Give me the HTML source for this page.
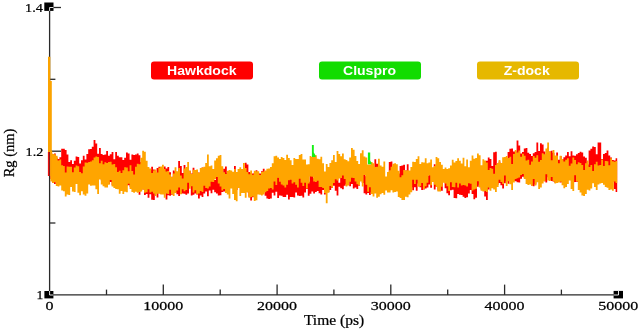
<!DOCTYPE html><html><head><meta charset="utf-8"><title>Rg plot</title><style>html,body{margin:0;padding:0;background:#fff}svg{display:block}text{font-family:"Liberation Serif",serif;fill:#000;stroke:#000;stroke-width:0.25px}.lg{font-family:"Liberation Sans",sans-serif;font-weight:bold;fill:#fff;stroke:none}</style></head><body>
<svg width="641" height="331" viewBox="0 0 641 331">
<rect width="641" height="331" fill="#fff"/>
<g stroke="#2a2a2a" stroke-width="1.3" fill="none">
<line x1="49.6" y1="7" x2="49.6" y2="294.9"/>
<line x1="49.6" y1="294.9" x2="618.3" y2="294.9"/>
<line x1="49.6" y1="7.5" x2="61" y2="7.5"/>
<line x1="49.6" y1="151.2" x2="61" y2="151.2"/>
<line x1="49.6" y1="79.3" x2="55.4" y2="79.3"/>
<line x1="49.6" y1="223" x2="55.4" y2="223"/>
<line x1="163.3" y1="284.6" x2="163.3" y2="294.9"/>
<line x1="277.1" y1="284.6" x2="277.1" y2="294.9"/>
<line x1="390.8" y1="284.6" x2="390.8" y2="294.9"/>
<line x1="504.6" y1="284.6" x2="504.6" y2="294.9"/>
<line x1="106.5" y1="289.6" x2="106.5" y2="294.9"/>
<line x1="220.2" y1="289.6" x2="220.2" y2="294.9"/>
<line x1="333.9" y1="289.6" x2="333.9" y2="294.9"/>
<line x1="447.7" y1="289.6" x2="447.7" y2="294.9"/>
<line x1="561.4" y1="289.6" x2="561.4" y2="294.9"/>
</g>
<g>
<polygon points="50.4,153.0 52.2,153.0 52.2,153.9 54.0,153.9 54.0,153.6 55.8,153.6 55.8,157.5 57.6,157.5 57.6,159.0 59.4,159.0 59.4,157.2 61.2,157.2 61.2,148.7 63.0,148.7 63.0,148.8 64.8,148.8 64.8,150.1 66.6,150.1 66.6,154.5 68.4,154.5 68.4,162.0 70.2,162.0 70.2,160.2 72.0,160.2 72.0,163.9 73.8,163.9 73.8,160.7 75.6,160.7 75.6,156.6 77.4,156.6 77.4,156.9 79.2,156.9 79.2,163.5 81.0,163.5 81.0,160.2 82.8,160.2 82.8,155.8 84.6,155.8 84.6,159.6 86.4,159.6 86.4,153.9 88.2,153.9 88.2,149.2 90.0,149.2 90.0,149.1 91.8,149.1 91.8,146.7 93.6,146.7 93.6,140.1 95.4,140.1 95.4,143.4 97.2,143.4 97.2,153.7 99.0,153.7 99.0,148.0 100.8,148.0 100.8,154.1 102.6,154.1 102.6,154.9 104.4,154.9 104.4,154.6 106.2,154.6 106.2,150.9 108.0,150.9 108.0,155.8 109.8,155.8 109.8,154.3 111.6,154.3 111.6,152.0 113.4,152.0 113.4,159.3 115.2,159.3 115.2,151.9 117.0,151.9 117.0,155.7 118.8,155.7 118.8,157.3 120.6,157.3 120.6,157.3 122.4,157.3 122.4,159.9 124.2,159.9 124.2,157.8 126.0,157.8 126.0,152.4 127.8,152.4 127.8,153.5 129.6,153.5 129.6,159.8 131.4,159.8 131.4,154.4 133.2,154.4 133.2,155.1 135.0,155.1 135.0,154.4 136.8,154.4 136.8,153.4 138.6,153.4 138.6,155.3 140.4,155.3 140.4,161.9 142.2,161.9 142.2,165.4 144.0,165.4 144.0,170.7 145.8,170.7 145.8,168.0 147.6,168.0 147.6,170.0 149.4,170.0 149.4,169.7 151.2,169.7 151.2,166.8 153.0,166.8 153.0,169.6 154.8,169.6 154.8,172.8 156.6,172.8 156.6,168.1 158.4,168.1 158.4,166.8 160.2,166.8 160.2,167.3 162.0,167.3 162.0,172.8 163.8,172.8 163.8,166.5 165.6,166.5 165.6,168.4 167.4,168.4 167.4,167.0 169.2,167.0 169.2,172.3 171.0,172.3 171.0,176.8 172.8,176.8 172.8,170.5 174.6,170.5 174.6,171.5 176.4,171.5 176.4,172.7 178.2,172.7 178.2,161.0 180.0,161.0 180.0,166.1 181.8,166.1 181.8,172.9 183.6,172.9 183.6,164.9 185.4,164.9 185.4,171.4 187.2,171.4 187.2,173.3 189.0,173.3 189.0,170.8 190.8,170.8 190.8,173.6 192.6,173.6 192.6,167.7 194.4,167.7 194.4,172.3 196.2,172.3 196.2,173.9 198.0,173.9 198.0,172.4 199.8,172.4 199.8,177.6 201.6,177.6 201.6,167.6 203.4,167.6 203.4,178.7 205.2,178.7 205.2,173.9 207.0,173.9 207.0,171.2 208.8,171.2 208.8,171.9 210.6,171.9 210.6,175.5 212.4,175.5 212.4,176.4 214.2,176.4 214.2,180.0 216.0,180.0 216.0,173.7 217.8,173.7 217.8,174.5 219.6,174.5 219.6,173.8 221.4,173.8 221.4,182.2 223.2,182.2 223.2,168.7 225.0,168.7 225.0,166.4 226.8,166.4 226.8,173.2 228.6,173.2 228.6,173.5 230.4,173.5 230.4,179.7 232.2,179.7 232.2,173.2 234.0,173.2 234.0,166.0 235.8,166.0 235.8,179.3 237.6,179.3 237.6,172.5 239.4,172.5 239.4,174.3 241.2,174.3 241.2,176.6 243.0,176.6 243.0,181.8 244.8,181.8 244.8,162.8 246.6,162.8 246.6,164.5 248.4,164.5 248.4,172.1 250.2,172.1 250.2,172.7 252.0,172.7 252.0,173.4 253.8,173.4 253.8,172.8 255.6,172.8 255.6,170.3 257.4,170.3 257.4,172.9 259.2,172.9 259.2,173.4 261.0,173.4 261.0,171.2 262.8,171.2 262.8,168.7 264.6,168.7 264.6,173.3 266.4,173.3 266.4,173.5 268.2,173.5 268.2,170.5 270.0,170.5 270.0,177.6 271.8,177.6 271.8,178.8 273.6,178.8 273.6,174.7 275.4,174.7 275.4,176.7 277.2,176.7 277.2,177.3 279.0,177.3 279.0,174.2 280.8,174.2 280.8,179.3 282.6,179.3 282.6,179.5 284.4,179.5 284.4,174.1 286.2,174.1 286.2,176.5 288.0,176.5 288.0,173.6 289.8,173.6 289.8,173.3 291.6,173.3 291.6,179.2 293.4,179.2 293.4,176.8 295.2,176.8 295.2,172.8 297.0,172.8 297.0,173.9 298.8,173.9 298.8,174.2 300.6,174.2 300.6,173.0 302.4,173.0 302.4,175.6 304.2,175.6 304.2,174.3 306.0,174.3 306.0,172.9 307.8,172.9 307.8,181.7 309.6,181.7 309.6,174.5 311.4,174.5 311.4,175.6 313.2,175.6 313.2,178.3 315.0,178.3 315.0,174.3 316.8,174.3 316.8,173.2 318.6,173.2 318.6,179.4 320.4,179.4 320.4,174.1 322.2,174.1 322.2,175.8 324.0,175.8 324.0,179.8 325.8,179.8 325.8,172.9 327.6,172.9 327.6,170.6 329.4,170.6 329.4,169.2 331.2,169.2 331.2,173.6 333.0,173.6 333.0,173.0 334.8,173.0 334.8,173.2 336.6,173.2 336.6,177.5 338.4,177.5 338.4,182.8 340.2,182.8 340.2,175.5 342.0,175.5 342.0,175.1 343.8,175.1 343.8,174.8 345.6,174.8 345.6,177.2 347.4,177.2 347.4,174.8 349.2,174.8 349.2,175.1 351.0,175.1 351.0,173.9 352.8,173.9 352.8,175.0 354.6,175.0 354.6,171.3 356.4,171.3 356.4,164.5 358.2,164.5 358.2,179.2 360.0,179.2 360.0,175.6 361.8,175.6 361.8,175.1 363.6,175.1 363.6,174.4 365.4,174.4 365.4,176.3 367.2,176.3 367.2,173.1 369.0,173.1 369.0,174.4 370.8,174.4 370.8,173.3 372.6,173.3 372.6,167.8 374.4,167.8 374.4,159.2 376.2,159.2 376.2,163.8 378.0,163.8 378.0,177.9 379.8,177.9 379.8,172.1 381.6,172.1 381.6,169.0 383.4,169.0 383.4,182.3 385.2,182.3 385.2,182.0 387.0,182.0 387.0,178.0 388.8,178.0 388.8,161.9 390.6,161.9 390.6,161.5 392.4,161.5 392.4,171.8 394.2,171.8 394.2,175.5 396.0,175.5 396.0,173.9 397.8,173.9 397.8,173.5 399.6,173.5 399.6,166.0 401.4,166.0 401.4,165.5 403.2,165.5 403.2,164.8 405.0,164.8 405.0,170.6 406.8,170.6 406.8,164.3 408.6,164.3 408.6,176.9 410.4,176.9 410.4,173.8 412.2,173.8 412.2,174.6 414.0,174.6 414.0,174.6 415.8,174.6 415.8,175.7 417.6,175.7 417.6,176.4 419.4,176.4 419.4,164.4 421.2,164.4 421.2,168.4 423.0,168.4 423.0,175.5 424.8,175.5 424.8,172.8 426.6,172.8 426.6,175.9 428.4,175.9 428.4,165.1 430.2,165.1 430.2,169.6 432.0,169.6 432.0,174.6 433.8,174.6 433.8,164.3 435.6,164.3 435.6,181.7 437.4,181.7 437.4,180.0 439.2,180.0 439.2,168.5 441.0,168.5 441.0,171.4 442.8,171.4 442.8,174.9 444.6,174.9 444.6,178.4 446.4,178.4 446.4,174.7 448.2,174.7 448.2,172.8 450.0,172.8 450.0,180.4 451.8,180.4 451.8,173.9 453.6,173.9 453.6,177.7 455.4,177.7 455.4,180.6 457.2,180.6 457.2,176.1 459.0,176.1 459.0,173.6 460.8,173.6 460.8,174.7 462.6,174.7 462.6,174.6 464.4,174.6 464.4,178.2 466.2,178.2 466.2,173.7 468.0,173.7 468.0,176.4 469.8,176.4 469.8,174.4 471.6,174.4 471.6,175.8 473.4,175.8 473.4,176.1 475.2,176.1 475.2,173.2 477.0,173.2 477.0,180.0 478.8,180.0 478.8,174.6 480.6,174.6 480.6,173.4 482.4,173.4 482.4,177.5 484.2,177.5 484.2,176.0 486.0,176.0 486.0,160.8 487.8,160.8 487.8,157.5 489.6,157.5 489.6,159.1 491.4,159.1 491.4,165.9 493.2,165.9 493.2,152.3 495.0,152.3 495.0,151.8 496.8,151.8 496.8,166.8 498.6,166.8 498.6,161.5 500.4,161.5 500.4,162.9 502.2,162.9 502.2,166.7 504.0,166.7 504.0,165.8 505.8,165.8 505.8,158.2 507.6,158.2 507.6,152.1 509.4,152.1 509.4,148.7 511.2,148.7 511.2,148.6 513.0,148.6 513.0,151.4 514.8,151.4 514.8,151.5 516.6,151.5 516.6,140.6 518.4,140.6 518.4,145.4 520.2,145.4 520.2,153.4 522.0,153.4 522.0,152.1 523.8,152.1 523.8,148.6 525.6,148.6 525.6,148.0 527.4,148.0 527.4,152.7 529.2,152.7 529.2,153.9 531.0,153.9 531.0,156.1 532.8,156.1 532.8,153.2 534.6,153.2 534.6,151.9 536.4,151.9 536.4,142.5 538.2,142.5 538.2,150.9 540.0,150.9 540.0,143.3 541.8,143.3 541.8,144.6 543.6,144.6 543.6,151.5 545.4,151.5 545.4,155.6 547.2,155.6 547.2,147.5 549.0,147.5 549.0,151.5 550.8,151.5 550.8,150.8 552.6,150.8 552.6,152.8 554.4,152.8 554.4,159.0 556.2,159.0 556.2,152.5 558.0,152.5 558.0,159.8 559.8,159.8 559.8,156.0 561.6,156.0 561.6,159.1 563.4,159.1 563.4,157.2 565.2,157.2 565.2,155.6 567.0,155.6 567.0,152.1 568.8,152.1 568.8,156.2 570.6,156.2 570.6,151.3 572.4,151.3 572.4,155.5 574.2,155.5 574.2,155.8 576.0,155.8 576.0,154.3 577.8,154.3 577.8,153.1 579.6,153.1 579.6,151.7 581.4,151.7 581.4,152.6 583.2,152.6 583.2,156.5 585.0,156.5 585.0,157.7 586.8,157.7 586.8,164.6 588.6,164.6 588.6,150.5 590.4,150.5 590.4,148.7 592.2,148.7 592.2,146.5 594.0,146.5 594.0,146.9 595.8,146.9 595.8,154.3 597.6,154.3 597.6,142.4 599.4,142.4 599.4,142.5 601.2,142.5 601.2,159.0 603.0,159.0 603.0,154.1 604.8,154.1 604.8,153.1 606.6,153.1 606.6,150.6 608.4,150.6 608.4,155.6 610.2,155.6 610.2,157.4 612.0,157.4 612.0,159.9 613.8,159.9 613.8,160.5 615.6,160.5 615.6,158.3 617.2,158.3 617.2,192.0 615.6,192.0 615.6,189.0 613.8,189.0 613.8,181.6 612.0,181.6 612.0,181.6 610.2,181.6 610.2,180.3 608.4,180.3 608.4,182.5 606.6,182.5 606.6,173.1 604.8,173.1 604.8,182.5 603.0,182.5 603.0,176.6 601.2,176.6 601.2,178.6 599.4,178.6 599.4,178.6 597.6,178.6 597.6,181.2 595.8,181.2 595.8,182.7 594.0,182.7 594.0,175.6 592.2,175.6 592.2,183.0 590.4,183.0 590.4,178.2 588.6,178.2 588.6,171.6 586.8,171.6 586.8,182.2 585.0,182.2 585.0,183.1 583.2,183.1 583.2,180.3 581.4,180.3 581.4,180.8 579.6,180.8 579.6,182.0 577.8,182.0 577.8,181.7 576.0,181.7 576.0,181.9 574.2,181.9 574.2,182.4 572.4,182.4 572.4,180.3 570.6,180.3 570.6,177.7 568.8,177.7 568.8,179.4 567.0,179.4 567.0,180.3 565.2,180.3 565.2,176.5 563.4,176.5 563.4,182.3 561.6,182.3 561.6,182.6 559.8,182.6 559.8,179.5 558.0,179.5 558.0,179.7 556.2,179.7 556.2,182.7 554.4,182.7 554.4,181.5 552.6,181.5 552.6,181.1 550.8,181.1 550.8,179.9 549.0,179.9 549.0,177.3 547.2,177.3 547.2,182.4 545.4,182.4 545.4,181.2 543.6,181.2 543.6,178.7 541.8,178.7 541.8,178.3 540.0,178.3 540.0,180.7 538.2,180.7 538.2,180.1 536.4,180.1 536.4,184.5 534.6,184.5 534.6,186.2 532.8,186.2 532.8,185.6 531.0,185.6 531.0,181.0 529.2,181.0 529.2,180.8 527.4,180.8 527.4,177.3 525.6,177.3 525.6,177.9 523.8,177.9 523.8,176.8 522.0,176.8 522.0,178.7 520.2,178.7 520.2,182.4 518.4,182.4 518.4,182.3 516.6,182.3 516.6,181.3 514.8,181.3 514.8,180.9 513.0,180.9 513.0,177.9 511.2,177.9 511.2,175.8 509.4,175.8 509.4,183.7 507.6,183.7 507.6,181.3 505.8,181.3 505.8,183.3 504.0,183.3 504.0,188.5 502.2,188.5 502.2,185.3 500.4,185.3 500.4,182.9 498.6,182.9 498.6,184.7 496.8,184.7 496.8,182.3 495.0,182.3 495.0,181.5 493.2,181.5 493.2,186.2 491.4,186.2 491.4,183.4 489.6,183.4 489.6,189.6 487.8,189.6 487.8,200.0 486.0,200.0 486.0,196.6 484.2,196.6 484.2,189.3 482.4,189.3 482.4,189.6 480.6,189.6 480.6,184.7 478.8,184.7 478.8,186.8 477.0,186.8 477.0,197.7 475.2,197.7 475.2,199.3 473.4,199.3 473.4,193.9 471.6,193.9 471.6,190.1 469.8,190.1 469.8,193.6 468.0,193.6 468.0,197.2 466.2,197.2 466.2,198.0 464.4,198.0 464.4,196.7 462.6,196.7 462.6,194.9 460.8,194.9 460.8,194.7 459.0,194.7 459.0,193.9 457.2,193.9 457.2,198.3 455.4,198.3 455.4,197.9 453.6,197.9 453.6,189.7 451.8,189.7 451.8,190.2 450.0,190.2 450.0,195.2 448.2,195.2 448.2,193.3 446.4,193.3 446.4,188.3 444.6,188.3 444.6,180.3 442.8,180.3 442.8,190.8 441.0,190.8 441.0,191.0 439.2,191.0 439.2,190.4 437.4,190.4 437.4,186.7 435.6,186.7 435.6,189.6 433.8,189.6 433.8,179.0 432.0,179.0 432.0,187.8 430.2,187.8 430.2,184.5 428.4,184.5 428.4,187.4 426.6,187.4 426.6,188.4 424.8,188.4 424.8,189.4 423.0,189.4 423.0,190.1 421.2,190.1 421.2,187.2 419.4,187.2 419.4,183.4 417.6,183.4 417.6,190.7 415.8,190.7 415.8,187.3 414.0,187.3 414.0,190.2 412.2,190.2 412.2,187.3 410.4,187.3 410.4,182.2 408.6,182.2 408.6,183.5 406.8,183.5 406.8,186.1 405.0,186.1 405.0,179.5 403.2,179.5 403.2,184.6 401.4,184.6 401.4,181.6 399.6,181.6 399.6,184.3 397.8,184.3 397.8,186.9 396.0,186.9 396.0,188.2 394.2,188.2 394.2,186.6 392.4,186.6 392.4,188.5 390.6,188.5 390.6,184.4 388.8,184.4 388.8,189.0 387.0,189.0 387.0,184.8 385.2,184.8 385.2,189.6 383.4,189.6 383.4,189.6 381.6,189.6 381.6,182.1 379.8,182.1 379.8,183.9 378.0,183.9 378.0,189.3 376.2,189.3 376.2,188.5 374.4,188.5 374.4,185.3 372.6,185.3 372.6,192.3 370.8,192.3 370.8,194.9 369.0,194.9 369.0,192.9 367.2,192.9 367.2,194.4 365.4,194.4 365.4,193.3 363.6,193.3 363.6,183.1 361.8,183.1 361.8,179.1 360.0,179.1 360.0,185.8 358.2,185.8 358.2,188.9 356.4,188.9 356.4,187.5 354.6,187.5 354.6,188.5 352.8,188.5 352.8,184.0 351.0,184.0 351.0,186.3 349.2,186.3 349.2,180.7 347.4,180.7 347.4,184.3 345.6,184.3 345.6,185.7 343.8,185.7 343.8,189.2 342.0,189.2 342.0,188.2 340.2,188.2 340.2,186.8 338.4,186.8 338.4,195.6 336.6,195.6 336.6,190.8 334.8,190.8 334.8,185.7 333.0,185.7 333.0,188.0 331.2,188.0 331.2,190.1 329.4,190.1 329.4,192.0 327.6,192.0 327.6,190.3 325.8,190.3 325.8,194.6 324.0,194.6 324.0,190.0 322.2,190.0 322.2,194.4 320.4,194.4 320.4,193.3 318.6,193.3 318.6,190.9 316.8,190.9 316.8,191.9 315.0,191.9 315.0,193.6 313.2,193.6 313.2,191.6 311.4,191.6 311.4,193.7 309.6,193.7 309.6,195.7 307.8,195.7 307.8,188.9 306.0,188.9 306.0,192.4 304.2,192.4 304.2,197.4 302.4,197.4 302.4,195.8 300.6,195.8 300.6,196.0 298.8,196.0 298.8,195.5 297.0,195.5 297.0,192.5 295.2,192.5 295.2,197.4 293.4,197.4 293.4,197.1 291.6,197.1 291.6,197.0 289.8,197.0 289.8,199.4 288.0,199.4 288.0,194.7 286.2,194.7 286.2,197.0 284.4,197.0 284.4,197.1 282.6,197.1 282.6,195.7 280.8,195.7 280.8,195.6 279.0,195.6 279.0,198.1 277.2,198.1 277.2,191.7 275.4,191.7 275.4,195.4 273.6,195.4 273.6,192.8 271.8,192.8 271.8,198.6 270.0,198.6 270.0,198.9 268.2,198.9 268.2,198.5 266.4,198.5 266.4,195.8 264.6,195.8 264.6,191.1 262.8,191.1 262.8,186.4 261.0,186.4 261.0,183.4 259.2,183.4 259.2,186.1 257.4,186.1 257.4,192.1 255.6,192.1 255.6,194.9 253.8,194.9 253.8,197.2 252.0,197.2 252.0,200.4 250.2,200.4 250.2,196.8 248.4,196.8 248.4,192.3 246.6,192.3 246.6,186.7 244.8,186.7 244.8,186.4 243.0,186.4 243.0,190.6 241.2,190.6 241.2,185.4 239.4,185.4 239.4,187.8 237.6,187.8 237.6,189.9 235.8,189.9 235.8,187.9 234.0,187.9 234.0,188.0 232.2,188.0 232.2,182.8 230.4,182.8 230.4,181.1 228.6,181.1 228.6,189.9 226.8,189.9 226.8,187.9 225.0,187.9 225.0,191.5 223.2,191.5 223.2,192.1 221.4,192.1 221.4,195.3 219.6,195.3 219.6,195.6 217.8,195.6 217.8,193.5 216.0,193.5 216.0,192.2 214.2,192.2 214.2,189.7 212.4,189.7 212.4,193.3 210.6,193.3 210.6,190.5 208.8,190.5 208.8,196.2 207.0,196.2 207.0,191.4 205.2,191.4 205.2,193.4 203.4,193.4 203.4,196.9 201.6,196.9 201.6,195.4 199.8,195.4 199.8,198.4 198.0,198.4 198.0,194.6 196.2,194.6 196.2,193.4 194.4,193.4 194.4,194.8 192.6,194.8 192.6,195.5 190.8,195.5 190.8,186.2 189.0,186.2 189.0,193.5 187.2,193.5 187.2,194.7 185.4,194.7 185.4,193.8 183.6,193.8 183.6,193.5 181.8,193.5 181.8,193.9 180.0,193.9 180.0,196.1 178.2,196.1 178.2,194.3 176.4,194.3 176.4,192.4 174.6,192.4 174.6,187.2 172.8,187.2 172.8,194.8 171.0,194.8 171.0,195.7 169.2,195.7 169.2,195.3 167.4,195.3 167.4,199.5 165.6,199.5 165.6,190.1 163.8,190.1 163.8,187.2 162.0,187.2 162.0,193.9 160.2,193.9 160.2,191.6 158.4,191.6 158.4,197.6 156.6,197.6 156.6,189.8 154.8,189.8 154.8,200.0 153.0,200.0 153.0,199.7 151.2,199.7 151.2,194.2 149.4,194.2 149.4,197.8 147.6,197.8 147.6,194.1 145.8,194.1 145.8,195.0 144.0,195.0 144.0,189.5 142.2,189.5 142.2,185.0 140.4,185.0 140.4,194.7 138.6,194.7 138.6,191.5 136.8,191.5 136.8,189.5 135.0,189.5 135.0,190.2 133.2,190.2 133.2,188.6 131.4,188.6 131.4,187.0 129.6,187.0 129.6,185.3 127.8,185.3 127.8,185.5 126.0,185.5 126.0,185.2 124.2,185.2 124.2,187.6 122.4,187.6 122.4,185.5 120.6,185.5 120.6,186.4 118.8,186.4 118.8,184.2 117.0,184.2 117.0,179.1 115.2,179.1 115.2,185.3 113.4,185.3 113.4,185.3 111.6,185.3 111.6,182.1 109.8,182.1 109.8,183.9 108.0,183.9 108.0,178.6 106.2,178.6 106.2,182.5 104.4,182.5 104.4,179.3 102.6,179.3 102.6,180.4 100.8,180.4 100.8,177.3 99.0,177.3 99.0,179.8 97.2,179.8 97.2,177.2 95.4,177.2 95.4,180.8 93.6,180.8 93.6,181.6 91.8,181.6 91.8,178.5 90.0,178.5 90.0,177.4 88.2,177.4 88.2,180.0 86.4,180.0 86.4,180.8 84.6,180.8 84.6,180.8 82.8,180.8 82.8,182.0 81.0,182.0 81.0,180.7 79.2,180.7 79.2,177.0 77.4,177.0 77.4,173.4 75.6,173.4 75.6,181.0 73.8,181.0 73.8,180.2 72.0,180.2 72.0,180.3 70.2,180.3 70.2,182.1 68.4,182.1 68.4,178.6 66.6,178.6 66.6,178.6 64.8,178.6 64.8,182.0 63.0,182.0 63.0,180.6 61.2,180.6 61.2,181.7 59.4,181.7 59.4,178.5 57.6,178.5 57.6,180.0 55.8,180.0 55.8,184.0 54.0,184.0 54.0,183.1 52.2,183.1 52.2,178.9 50.4,178.9" fill="#ff0000"/>
<rect x="47.9" y="152" width="1.6" height="24" fill="#e81010"/>
<polygon points="50.4,150.8 52.2,150.8 52.2,154.1 54.0,154.1 54.0,154.2 55.8,154.2 55.8,155.7 57.6,155.7 57.6,160.5 59.4,160.5 59.4,159.5 61.2,159.5 61.2,165.2 63.0,165.2 63.0,166.1 64.8,166.1 64.8,172.4 66.6,172.4 66.6,166.5 68.4,166.5 68.4,166.8 70.2,166.8 70.2,166.7 72.0,166.7 72.0,172.2 73.8,172.2 73.8,167.6 75.6,167.6 75.6,165.6 77.4,165.6 77.4,166.2 79.2,166.2 79.2,172.1 81.0,172.1 81.0,173.2 82.8,173.2 82.8,166.6 84.6,166.6 84.6,162.6 86.4,162.6 86.4,162.7 88.2,162.7 88.2,162.0 90.0,162.0 90.0,161.4 91.8,161.4 91.8,160.3 93.6,160.3 93.6,157.5 95.4,157.5 95.4,156.6 97.2,156.6 97.2,157.1 99.0,157.1 99.0,163.2 100.8,163.2 100.8,160.7 102.6,160.7 102.6,164.2 104.4,164.2 104.4,162.2 106.2,162.2 106.2,163.1 108.0,163.1 108.0,162.0 109.8,162.0 109.8,161.7 111.6,161.7 111.6,164.6 113.4,164.6 113.4,164.0 115.2,164.0 115.2,167.3 117.0,167.3 117.0,172.1 118.8,172.1 118.8,170.8 120.6,170.8 120.6,172.9 122.4,172.9 122.4,170.3 124.2,170.3 124.2,167.3 126.0,167.3 126.0,167.4 127.8,167.4 127.8,171.3 129.6,171.3 129.6,165.3 131.4,165.3 131.4,171.0 133.2,171.0 133.2,174.5 135.0,174.5 135.0,166.7 136.8,166.7 136.8,163.7 138.6,163.7 138.6,164.3 140.4,164.3 140.4,157.7 142.2,157.7 142.2,150.8 144.0,150.8 144.0,151.8 145.8,151.8 145.8,160.8 147.6,160.8 147.6,167.1 149.4,167.1 149.4,168.5 151.2,168.5 151.2,173.0 153.0,173.0 153.0,170.5 154.8,170.5 154.8,169.5 156.6,169.5 156.6,172.4 158.4,172.4 158.4,167.8 160.2,167.8 160.2,166.5 162.0,166.5 162.0,164.8 163.8,164.8 163.8,168.9 165.6,168.9 165.6,171.5 167.4,171.5 167.4,171.0 169.2,171.0 169.2,174.6 171.0,174.6 171.0,176.9 172.8,176.9 172.8,173.6 174.6,173.6 174.6,167.2 176.4,167.2 176.4,171.2 178.2,171.2 178.2,168.1 180.0,168.1 180.0,175.5 181.8,175.5 181.8,178.6 183.6,178.6 183.6,168.6 185.4,168.6 185.4,166.9 187.2,166.9 187.2,162.0 189.0,162.0 189.0,170.8 190.8,170.8 190.8,174.0 192.6,174.0 192.6,169.8 194.4,169.8 194.4,169.9 196.2,169.9 196.2,169.5 198.0,169.5 198.0,172.7 199.8,172.7 199.8,168.1 201.6,168.1 201.6,167.4 203.4,167.4 203.4,166.8 205.2,166.8 205.2,163.1 207.0,163.1 207.0,154.6 208.8,154.6 208.8,166.3 210.6,166.3 210.6,165.4 212.4,165.4 212.4,169.0 214.2,169.0 214.2,160.5 216.0,160.5 216.0,158.3 217.8,158.3 217.8,155.7 219.6,155.7 219.6,155.1 221.4,155.1 221.4,166.2 223.2,166.2 223.2,172.3 225.0,172.3 225.0,174.1 226.8,174.1 226.8,170.7 228.6,170.7 228.6,169.9 230.4,169.9 230.4,170.6 232.2,170.6 232.2,171.7 234.0,171.7 234.0,168.9 235.8,168.9 235.8,172.1 237.6,172.1 237.6,169.1 239.4,169.1 239.4,167.3 241.2,167.3 241.2,169.0 243.0,169.0 243.0,163.1 244.8,163.1 244.8,168.0 246.6,168.0 246.6,172.0 248.4,172.0 248.4,174.3 250.2,174.3 250.2,170.4 252.0,170.4 252.0,174.8 253.8,174.8 253.8,170.7 255.6,170.7 255.6,171.3 257.4,171.3 257.4,171.2 259.2,171.2 259.2,174.9 261.0,174.9 261.0,172.0 262.8,172.0 262.8,171.6 264.6,171.6 264.6,170.5 266.4,170.5 266.4,168.8 268.2,168.8 268.2,168.5 270.0,168.5 270.0,166.9 271.8,166.9 271.8,163.2 273.6,163.2 273.6,156.3 275.4,156.3 275.4,155.7 277.2,155.7 277.2,157.6 279.0,157.6 279.0,159.1 280.8,159.1 280.8,157.1 282.6,157.1 282.6,157.9 284.4,157.9 284.4,160.1 286.2,160.1 286.2,154.8 288.0,154.8 288.0,158.1 289.8,158.1 289.8,160.2 291.6,160.2 291.6,165.1 293.4,165.1 293.4,157.9 295.2,157.9 295.2,159.0 297.0,159.0 297.0,159.1 298.8,159.1 298.8,155.1 300.6,155.1 300.6,154.0 302.4,154.0 302.4,159.5 304.2,159.5 304.2,159.4 306.0,159.4 306.0,164.4 307.8,164.4 307.8,164.2 309.6,164.2 309.6,155.9 311.4,155.9 311.4,157.0 313.2,157.0 313.2,157.0 315.0,157.0 315.0,155.3 316.8,155.3 316.8,158.7 318.6,158.7 318.6,159.3 320.4,159.3 320.4,156.7 322.2,156.7 322.2,163.2 324.0,163.2 324.0,171.6 325.8,171.6 325.8,164.1 327.6,164.1 327.6,167.1 329.4,167.1 329.4,163.1 331.2,163.1 331.2,160.3 333.0,160.3 333.0,155.0 334.8,155.0 334.8,161.9 336.6,161.9 336.6,151.0 338.4,151.0 338.4,154.1 340.2,154.1 340.2,156.2 342.0,156.2 342.0,153.4 343.8,153.4 343.8,159.3 345.6,159.3 345.6,160.1 347.4,160.1 347.4,161.3 349.2,161.3 349.2,157.5 351.0,157.5 351.0,148.0 352.8,148.0 352.8,149.7 354.6,149.7 354.6,156.1 356.4,156.1 356.4,160.9 358.2,160.9 358.2,164.1 360.0,164.1 360.0,153.3 361.8,153.3 361.8,150.3 363.6,150.3 363.6,156.4 365.4,156.4 365.4,157.6 367.2,157.6 367.2,164.5 369.0,164.5 369.0,164.5 370.8,164.5 370.8,161.9 372.6,161.9 372.6,163.2 374.4,163.2 374.4,167.0 376.2,167.0 376.2,166.7 378.0,166.7 378.0,158.8 379.8,158.8 379.8,165.4 381.6,165.4 381.6,166.7 383.4,166.7 383.4,161.6 385.2,161.6 385.2,176.5 387.0,176.5 387.0,172.0 388.8,172.0 388.8,170.3 390.6,170.3 390.6,166.7 392.4,166.7 392.4,163.8 394.2,163.8 394.2,163.3 396.0,163.3 396.0,164.2 397.8,164.2 397.8,170.7 399.6,170.7 399.6,177.2 401.4,177.2 401.4,175.2 403.2,175.2 403.2,169.9 405.0,169.9 405.0,170.4 406.8,170.4 406.8,170.2 408.6,170.2 408.6,170.4 410.4,170.4 410.4,167.0 412.2,167.0 412.2,161.8 414.0,161.8 414.0,161.9 415.8,161.9 415.8,158.9 417.6,158.9 417.6,156.3 419.4,156.3 419.4,163.9 421.2,163.9 421.2,162.3 423.0,162.3 423.0,162.5 424.8,162.5 424.8,158.2 426.6,158.2 426.6,163.2 428.4,163.2 428.4,162.4 430.2,162.4 430.2,159.4 432.0,159.4 432.0,167.3 433.8,167.3 433.8,166.1 435.6,166.1 435.6,156.9 437.4,156.9 437.4,158.2 439.2,158.2 439.2,162.0 441.0,162.0 441.0,164.7 442.8,164.7 442.8,169.1 444.6,169.1 444.6,167.5 446.4,167.5 446.4,168.9 448.2,168.9 448.2,168.3 450.0,168.3 450.0,165.6 451.8,165.6 451.8,159.7 453.6,159.7 453.6,162.6 455.4,162.6 455.4,161.1 457.2,161.1 457.2,158.3 459.0,158.3 459.0,160.8 460.8,160.8 460.8,163.5 462.6,163.5 462.6,157.8 464.4,157.8 464.4,166.2 466.2,166.2 466.2,159.6 468.0,159.6 468.0,167.3 469.8,167.3 469.8,160.8 471.6,160.8 471.6,155.4 473.4,155.4 473.4,158.7 475.2,158.7 475.2,157.9 477.0,157.9 477.0,153.4 478.8,153.4 478.8,155.3 480.6,155.3 480.6,165.2 482.4,165.2 482.4,159.2 484.2,159.2 484.2,160.4 486.0,160.4 486.0,162.4 487.8,162.4 487.8,170.1 489.6,170.1 489.6,168.1 491.4,168.1 491.4,168.8 493.2,168.8 493.2,173.7 495.0,173.7 495.0,165.0 496.8,165.0 496.8,163.1 498.6,163.1 498.6,159.9 500.4,159.9 500.4,163.0 502.2,163.0 502.2,157.2 504.0,157.2 504.0,157.1 505.8,157.1 505.8,156.0 507.6,156.0 507.6,158.1 509.4,158.1 509.4,156.8 511.2,156.8 511.2,164.0 513.0,164.0 513.0,153.9 514.8,153.9 514.8,150.0 516.6,150.0 516.6,152.6 518.4,152.6 518.4,150.6 520.2,150.6 520.2,156.8 522.0,156.8 522.0,153.8 523.8,153.8 523.8,155.7 525.6,155.7 525.6,160.6 527.4,160.6 527.4,159.8 529.2,159.8 529.2,164.7 531.0,164.7 531.0,161.5 532.8,161.5 532.8,156.1 534.6,156.1 534.6,157.8 536.4,157.8 536.4,155.3 538.2,155.3 538.2,161.7 540.0,161.7 540.0,160.1 541.8,160.1 541.8,153.2 543.6,153.2 543.6,154.2 545.4,154.2 545.4,148.4 547.2,148.4 547.2,142.5 549.0,142.5 549.0,151.7 550.8,151.7 550.8,160.2 552.6,160.2 552.6,150.1 554.4,150.1 554.4,155.4 556.2,155.4 556.2,155.6 558.0,155.6 558.0,163.3 559.8,163.3 559.8,155.8 561.6,155.8 561.6,159.0 563.4,159.0 563.4,161.4 565.2,161.4 565.2,159.7 567.0,159.7 567.0,158.2 568.8,158.2 568.8,165.7 570.6,165.7 570.6,163.4 572.4,163.4 572.4,157.5 574.2,157.5 574.2,159.9 576.0,159.9 576.0,164.2 577.8,164.2 577.8,162.2 579.6,162.2 579.6,163.0 581.4,163.0 581.4,164.9 583.2,164.9 583.2,169.9 585.0,169.9 585.0,163.2 586.8,163.2 586.8,160.6 588.6,160.6 588.6,167.1 590.4,167.1 590.4,165.0 592.2,165.0 592.2,171.1 594.0,171.1 594.0,164.3 595.8,164.3 595.8,161.7 597.6,161.7 597.6,165.6 599.4,165.6 599.4,165.0 601.2,165.0 601.2,159.5 603.0,159.5 603.0,166.1 604.8,166.1 604.8,161.1 606.6,161.1 606.6,161.2 608.4,161.2 608.4,165.3 610.2,165.3 610.2,158.3 612.0,158.3 612.0,161.3 613.8,161.3 613.8,161.7 615.6,161.7 615.6,161.0 617.2,161.0 617.2,183.0 615.6,183.0 615.6,181.4 613.8,181.4 613.8,190.8 612.0,190.8 612.0,189.5 610.2,189.5 610.2,190.1 608.4,190.1 608.4,187.7 606.6,187.7 606.6,186.9 604.8,186.9 604.8,184.8 603.0,184.8 603.0,183.1 601.2,183.1 601.2,183.6 599.4,183.6 599.4,184.6 597.6,184.6 597.6,189.9 595.8,189.9 595.8,187.0 594.0,187.0 594.0,183.3 592.2,183.3 592.2,188.4 590.4,188.4 590.4,190.6 588.6,190.6 588.6,189.7 586.8,189.7 586.8,193.9 585.0,193.9 585.0,196.0 583.2,196.0 583.2,195.6 581.4,195.6 581.4,192.4 579.6,192.4 579.6,189.9 577.8,189.9 577.8,181.2 576.0,181.2 576.0,175.3 574.2,175.3 574.2,190.9 572.4,190.9 572.4,189.0 570.6,189.0 570.6,180.4 568.8,180.4 568.8,184.0 567.0,184.0 567.0,187.1 565.2,187.1 565.2,188.3 563.4,188.3 563.4,185.3 561.6,185.3 561.6,181.8 559.8,181.8 559.8,182.5 558.0,182.5 558.0,183.0 556.2,183.0 556.2,183.4 554.4,183.4 554.4,181.3 552.6,181.3 552.6,176.9 550.8,176.9 550.8,180.9 549.0,180.9 549.0,180.4 547.2,180.4 547.2,174.3 545.4,174.3 545.4,181.3 543.6,181.3 543.6,183.5 541.8,183.5 541.8,187.4 540.0,187.4 540.0,188.9 538.2,188.9 538.2,182.2 536.4,182.2 536.4,185.6 534.6,185.6 534.6,178.9 532.8,178.9 532.8,185.8 531.0,185.8 531.0,184.5 529.2,184.5 529.2,185.1 527.4,185.1 527.4,184.0 525.6,184.0 525.6,179.0 523.8,179.0 523.8,174.1 522.0,174.1 522.0,174.9 520.2,174.9 520.2,177.6 518.4,177.6 518.4,178.3 516.6,178.3 516.6,179.0 514.8,179.0 514.8,182.6 513.0,182.6 513.0,190.0 511.2,190.0 511.2,184.2 509.4,184.2 509.4,181.3 507.6,181.3 507.6,185.9 505.8,185.9 505.8,175.5 504.0,175.5 504.0,184.0 502.2,184.0 502.2,182.0 500.4,182.0 500.4,179.8 498.6,179.8 498.6,187.0 496.8,187.0 496.8,192.0 495.0,192.0 495.0,189.4 493.2,189.4 493.2,188.3 491.4,188.3 491.4,190.8 489.6,190.8 489.6,187.6 487.8,187.6 487.8,192.1 486.0,192.1 486.0,191.1 484.2,191.1 484.2,191.6 482.4,191.6 482.4,190.7 480.6,190.7 480.6,187.4 478.8,187.4 478.8,181.2 477.0,181.2 477.0,188.8 475.2,188.8 475.2,189.5 473.4,189.5 473.4,190.4 471.6,190.4 471.6,183.8 469.8,183.8 469.8,183.3 468.0,183.3 468.0,186.5 466.2,186.5 466.2,185.6 464.4,185.6 464.4,184.9 462.6,184.9 462.6,185.6 460.8,185.6 460.8,183.5 459.0,183.5 459.0,187.5 457.2,187.5 457.2,182.8 455.4,182.8 455.4,187.2 453.6,187.2 453.6,187.1 451.8,187.1 451.8,182.2 450.0,182.2 450.0,191.1 448.2,191.1 448.2,186.3 446.4,186.3 446.4,183.5 444.6,183.5 444.6,182.7 442.8,182.7 442.8,186.8 441.0,186.8 441.0,191.5 439.2,191.5 439.2,191.4 437.4,191.4 437.4,186.9 435.6,186.9 435.6,184.7 433.8,184.7 433.8,181.9 432.0,181.9 432.0,185.2 430.2,185.2 430.2,175.6 428.4,175.6 428.4,182.7 426.6,182.7 426.6,186.2 424.8,186.2 424.8,189.0 423.0,189.0 423.0,182.9 421.2,182.9 421.2,186.2 419.4,186.2 419.4,186.7 417.6,186.7 417.6,179.8 415.8,179.8 415.8,183.9 414.0,183.9 414.0,179.8 412.2,179.8 412.2,192.3 410.4,192.3 410.4,194.6 408.6,194.6 408.6,197.3 406.8,197.3 406.8,196.7 405.0,196.7 405.0,200.0 403.2,200.0 403.2,200.0 401.4,200.0 401.4,198.0 399.6,198.0 399.6,196.9 397.8,196.9 397.8,191.5 396.0,191.5 396.0,192.0 394.2,192.0 394.2,192.5 392.4,192.5 392.4,190.2 390.6,190.2 390.6,192.6 388.8,192.6 388.8,192.5 387.0,192.5 387.0,190.5 385.2,190.5 385.2,194.8 383.4,194.8 383.4,193.1 381.6,193.1 381.6,194.2 379.8,194.2 379.8,196.7 378.0,196.7 378.0,197.8 376.2,197.8 376.2,193.4 374.4,193.4 374.4,196.5 372.6,196.5 372.6,194.1 370.8,194.1 370.8,187.2 369.0,187.2 369.0,191.7 367.2,191.7 367.2,184.7 365.4,184.7 365.4,175.0 363.6,175.0 363.6,186.4 361.8,186.4 361.8,181.4 360.0,181.4 360.0,185.6 358.2,185.6 358.2,184.3 356.4,184.3 356.4,181.4 354.6,181.4 354.6,177.9 352.8,177.9 352.8,177.7 351.0,177.7 351.0,181.7 349.2,181.7 349.2,185.5 347.4,185.5 347.4,186.4 345.6,186.4 345.6,179.0 343.8,179.0 343.8,175.5 342.0,175.5 342.0,178.1 340.2,178.1 340.2,178.6 338.4,178.6 338.4,180.4 336.6,180.4 336.6,179.3 334.8,179.3 334.8,182.9 333.0,182.9 333.0,187.8 331.2,187.8 331.2,186.1 329.4,186.1 329.4,192.7 327.6,192.7 327.6,203.2 325.8,203.2 325.8,193.0 324.0,193.0 324.0,188.1 322.2,188.1 322.2,186.9 320.4,186.9 320.4,186.9 318.6,186.9 318.6,180.8 316.8,180.8 316.8,182.1 315.0,182.1 315.0,181.5 313.2,181.5 313.2,176.7 311.4,176.7 311.4,176.6 309.6,176.6 309.6,183.6 307.8,183.6 307.8,188.6 306.0,188.6 306.0,182.7 304.2,182.7 304.2,186.1 302.4,186.1 302.4,182.8 300.6,182.8 300.6,178.8 298.8,178.8 298.8,187.4 297.0,187.4 297.0,184.7 295.2,184.7 295.2,182.3 293.4,182.3 293.4,183.5 291.6,183.5 291.6,179.8 289.8,179.8 289.8,180.2 288.0,180.2 288.0,184.8 286.2,184.8 286.2,187.5 284.4,187.5 284.4,185.4 282.6,185.4 282.6,184.5 280.8,184.5 280.8,181.8 279.0,181.8 279.0,177.7 277.2,177.7 277.2,184.9 275.4,184.9 275.4,181.6 273.6,181.6 273.6,189.4 271.8,189.4 271.8,188.0 270.0,188.0 270.0,188.4 268.2,188.4 268.2,191.0 266.4,191.0 266.4,192.2 264.6,192.2 264.6,194.5 262.8,194.5 262.8,195.6 261.0,195.6 261.0,194.8 259.2,194.8 259.2,194.4 257.4,194.4 257.4,200.2 255.6,200.2 255.6,200.9 253.8,200.9 253.8,196.5 252.0,196.5 252.0,196.9 250.2,196.9 250.2,197.7 248.4,197.7 248.4,192.3 246.6,192.3 246.6,197.7 244.8,197.7 244.8,192.9 243.0,192.9 243.0,193.0 241.2,193.0 241.2,195.9 239.4,195.9 239.4,188.1 237.6,188.1 237.6,201.2 235.8,201.2 235.8,200.0 234.0,200.0 234.0,194.0 232.2,194.0 232.2,188.6 230.4,188.6 230.4,198.4 228.6,198.4 228.6,194.4 226.8,194.4 226.8,192.9 225.0,192.9 225.0,188.9 223.2,188.9 223.2,190.6 221.4,190.6 221.4,186.5 219.6,186.5 219.6,183.4 217.8,183.4 217.8,177.1 216.0,177.1 216.0,179.2 214.2,179.2 214.2,181.9 212.4,181.9 212.4,181.8 210.6,181.8 210.6,186.6 208.8,186.6 208.8,188.4 207.0,188.4 207.0,187.9 205.2,187.9 205.2,185.7 203.4,185.7 203.4,191.9 201.6,191.9 201.6,191.0 199.8,191.0 199.8,193.6 198.0,193.6 198.0,194.3 196.2,194.3 196.2,190.3 194.4,190.3 194.4,192.6 192.6,192.6 192.6,186.3 190.8,186.3 190.8,188.7 189.0,188.7 189.0,182.8 187.2,182.8 187.2,190.1 185.4,190.1 185.4,191.3 183.6,191.3 183.6,189.3 181.8,189.3 181.8,194.3 180.0,194.3 180.0,187.5 178.2,187.5 178.2,190.4 176.4,190.4 176.4,193.0 174.6,193.0 174.6,196.0 172.8,196.0 172.8,194.3 171.0,194.3 171.0,189.8 169.2,189.8 169.2,193.9 167.4,193.9 167.4,193.6 165.6,193.6 165.6,197.8 163.8,197.8 163.8,194.4 162.0,194.4 162.0,194.6 160.2,194.6 160.2,193.8 158.4,193.8 158.4,193.7 156.6,193.7 156.6,196.0 154.8,196.0 154.8,193.5 153.0,193.5 153.0,191.7 151.2,191.7 151.2,192.4 149.4,192.4 149.4,189.3 147.6,189.3 147.6,192.3 145.8,192.3 145.8,192.7 144.0,192.7 144.0,189.5 142.2,189.5 142.2,191.6 140.4,191.6 140.4,191.9 138.6,191.9 138.6,192.8 136.8,192.8 136.8,191.7 135.0,191.7 135.0,192.8 133.2,192.8 133.2,191.9 131.4,191.9 131.4,189.0 129.6,189.0 129.6,183.7 127.8,183.7 127.8,192.2 126.0,192.2 126.0,191.7 124.2,191.7 124.2,194.0 122.4,194.0 122.4,190.9 120.6,190.9 120.6,193.8 118.8,193.8 118.8,189.3 117.0,189.3 117.0,189.0 115.2,189.0 115.2,187.9 113.4,187.9 113.4,186.6 111.6,186.6 111.6,179.9 109.8,179.9 109.8,184.8 108.0,184.8 108.0,187.5 106.2,187.5 106.2,187.4 104.4,187.4 104.4,186.2 102.6,186.2 102.6,184.5 100.8,184.5 100.8,179.4 99.0,179.4 99.0,193.9 97.2,193.9 97.2,189.3 95.4,189.3 95.4,185.5 93.6,185.5 93.6,185.4 91.8,185.4 91.8,185.8 90.0,185.8 90.0,184.6 88.2,184.6 88.2,193.5 86.4,193.5 86.4,195.8 84.6,195.8 84.6,194.5 82.8,194.5 82.8,191.3 81.0,191.3 81.0,195.3 79.2,195.3 79.2,192.8 77.4,192.8 77.4,184.0 75.6,184.0 75.6,192.0 73.8,192.0 73.8,191.5 72.0,191.5 72.0,186.9 70.2,186.9 70.2,195.1 68.4,195.1 68.4,194.5 66.6,194.5 66.6,196.6 64.8,196.6 64.8,191.2 63.0,191.2 63.0,190.6 61.2,190.6 61.2,185.4 59.4,185.4 59.4,186.5 57.6,186.5 57.6,186.1 55.8,186.1 55.8,182.3 54.0,182.3 54.0,183.0 52.2,183.0 52.2,181.6 50.4,181.6" fill="#ffa500"/>
<path d="M48 56.7 H50.3 V81 H51.8 V176 H50.3 V152 H48 Z" fill="#fba300"/>
<path d="M311.9 144.9 H313.8 V152.5 L315.6 155.5 V157 H311.9 Z M367.9 152.4 H370.2 V160.5 L371.5 163 V164.3 H367.9 Z" fill="#14f014"/>
</g>
<rect x="44.3" y="2.5" width="9.2" height="8.4" fill="#000"/>
<path d="M49.6 10.9 V7.5 H53.5" stroke="#fff" stroke-width="0.9" fill="none"/>
<rect x="44.4" y="291" width="9.0" height="7.4" fill="#000"/>
<path d="M49.6 291 V295 H53.4" stroke="#fff" stroke-width="0.9" fill="none"/>
<rect x="613.6" y="290.9" width="9.4" height="7.5" fill="#000"/>
<path d="M618.5 290.9 V295 H613.6" stroke="#fff" stroke-width="0.9" fill="none"/>
<rect x="151" y="61.6" width="102" height="18" rx="3" ry="3" fill="#ff0000"/>
<text class="lg" transform="translate(201.8,75.3) scale(1.08,1)" font-size="13" text-anchor="middle">Hawkdock</text>
<rect x="319" y="61.6" width="102" height="18" rx="3" ry="3" fill="#12dc00"/>
<text class="lg" transform="translate(369.5,75.3) scale(1.08,1)" font-size="13" text-anchor="middle">Cluspro</text>
<rect x="477" y="61.6" width="102" height="18" rx="3" ry="3" fill="#e6b800"/>
<text class="lg" transform="translate(526.7,75.3) scale(1.08,1)" font-size="13" text-anchor="middle">Z-dock</text>
<text transform="translate(42.8,12.1) scale(1.055,1)" font-size="13.5" text-anchor="end">1.4</text>
<text transform="translate(43.3,156.0) scale(1.055,1)" font-size="13.5" text-anchor="end">1.2</text>
<text transform="translate(43.3,298.9) scale(1.0,1)" font-size="13.5" text-anchor="end">1</text>
<text transform="translate(49.5,310) scale(1.185,1)" font-size="13.5" text-anchor="middle">0</text>
<text transform="translate(163.2,310) scale(1.185,1)" font-size="13.5" text-anchor="middle">10000</text>
<text transform="translate(277.0,310) scale(1.185,1)" font-size="13.5" text-anchor="middle">20000</text>
<text transform="translate(390.7,310) scale(1.185,1)" font-size="13.5" text-anchor="middle">30000</text>
<text transform="translate(504.5,310) scale(1.185,1)" font-size="13.5" text-anchor="middle">40000</text>
<text transform="translate(618.2,310) scale(1.185,1)" font-size="13.5" text-anchor="middle">50000</text>
<text transform="translate(334,325.3) scale(1.035,1)" font-size="15" text-anchor="middle">Time (ps)</text>
<text transform="translate(13.6,153) rotate(-90)" font-size="14.5" text-anchor="middle">Rg (nm)</text>
</svg></body></html>
